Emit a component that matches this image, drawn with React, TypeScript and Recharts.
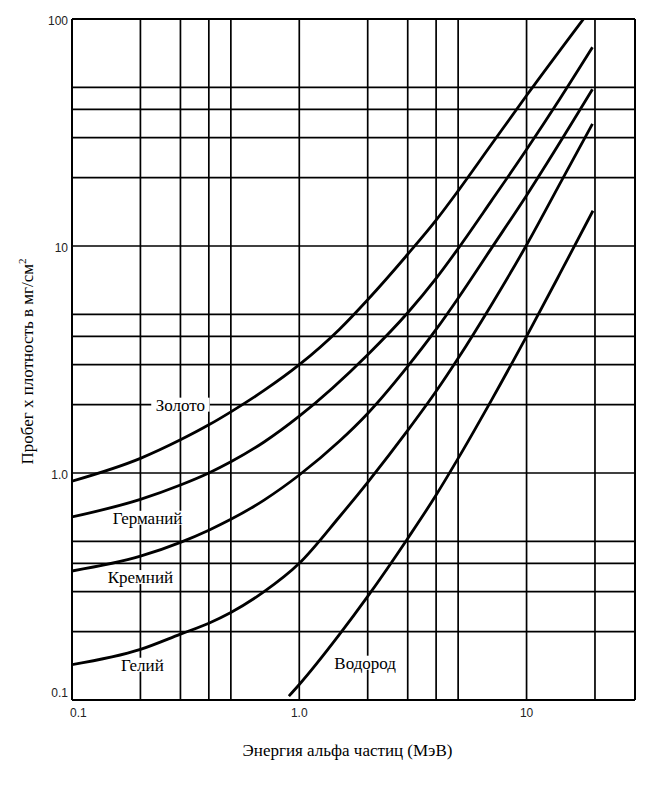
import React from 'react';
import { LineChart, Line, XAxis, YAxis, CartesianGrid, ReferenceLine, ReferenceDot, Label } from 'recharts';

// энергия (МэВ) и пробег x плотность (мг/см²)
const energyGold = [0.1, 0.2, 0.3, 0.4, 0.5, 0.7, 1, 1.5, 2, 3, 4, 5, 7, 10, 17.8];
const rangeGold = [0.92, 1.16, 1.4, 1.63, 1.86, 2.31, 3.0, 4.29, 5.8, 9.2, 13.0, 17.5, 28, 46, 100];

const energyGermanium = [0.1, 0.2, 0.3, 0.4, 0.5, 0.7, 1, 2, 3, 4, 5, 7, 10, 14, 19.5];
const rangeGermanium = [0.64, 0.765, 0.885, 1.0, 1.12, 1.37, 1.78, 3.32, 5.08, 7.2, 9.74, 15.8, 26.6, 44.4, 75];

const energySilicon = [0.1, 0.2, 0.3, 0.4, 0.5, 0.7, 1, 1.5, 2, 3, 4, 5, 7, 10, 19.5];
const rangeSilicon = [0.37, 0.43, 0.495, 0.56, 0.625, 0.76, 0.98, 1.38, 1.83, 2.95, 4.29, 5.89, 9.76, 16.7, 49];

const energyHelium = [0.1, 0.2, 0.3, 0.4, 0.5, 0.7, 1, 1.5, 2, 3, 4, 5, 7, 10, 14.3, 19.5];
const rangeHelium = [0.143, 0.167, 0.195, 0.218, 0.243, 0.3, 0.4, 0.64, 0.91, 1.54, 2.29, 3.2, 5.5, 10.1, 19.5, 34.5];

const energyHydrogen = [0.9, 1, 1.5, 2, 3, 4, 5, 7, 10, 14, 19.6];
const rangeHydrogen = [0.104, 0.117, 0.194, 0.286, 0.515, 0.8, 1.16, 2.09, 4.0, 7.53, 14.3];

const xTicks = [0.1, 0.2, 0.3, 0.4, 0.5, 1, 2, 3, 4, 5, 10, 20];
const yTicks = [0.1, 0.2, 0.3, 0.4, 0.5, 1, 2, 3, 4, 5, 10, 20, 30, 40, 50, 100];
const xTickLabels: Record<number, string> = { 0.1: '0.1', 1: '1.0', 10: '10' };
const yTickLabels: Record<number, string> = { 0.1: '0.1', 1: '1.0', 10: '10', 100: '100' };

const toPoints = (energy: number[], range: number[]) => energy.map((e, i) => ({ e, r: range[i] }));

const series = [
  { name: 'Золото', data: toPoints(energyGold, rangeGold) },
  { name: 'Германий', data: toPoints(energyGermanium, rangeGermanium) },
  { name: 'Кремний', data: toPoints(energySilicon, rangeSilicon) },
  { name: 'Гелий', data: toPoints(energyHelium, rangeHelium) },
  { name: 'Водород', data: toPoints(energyHydrogen, rangeHydrogen) },
];

const serif = '"Liberation Serif", "Times New Roman", serif';
const sans = '"Liberation Sans", Arial, sans-serif';

const XTick = (props: any) => {
  const { x, y, payload } = props;
  const text = xTickLabels[payload.value];
  if (!text) return null;
  return (
    <text x={payload.value === 0.1 ? x - 2 : x} y={y} dy="0.71em" textAnchor={payload.value === 0.1 ? 'start' : 'middle'}
      style={{ fontFamily: sans, fontSize: 12 }} fill="#222">{text}</text>
  );
};

const YTick = (props: any) => {
  const { x, y, payload } = props;
  const text = yTickLabels[payload.value];
  if (!text) return null;
  return (
    <text x={x + 4} y={payload.value === 0.1 ? y - 7 : y + 2} dy="0.355em" textAnchor="end"
      style={{ fontFamily: sans, fontSize: 12 }} fill="#222">{text}</text>
  );
};

const curveLabel = (text: string) => (props: any) => {
  const { cx, cy } = props;
  const w = text.length * 9.4 + 2;
  return (
    <g>
      <rect x={cx - w / 2} y={cy - 7} width={w} height={14} fill="#fff" />
      <text x={cx} y={cy + 6} textAnchor="middle" style={{ fontFamily: serif, fontSize: 17 }} fill="#000">{text}</text>
    </g>
  );
};

export default function App() {
  return (
    <LineChart width={654} height={790} margin={{ top: 11, right: 27, left: 0, bottom: 38 }}>
      <CartesianGrid stroke="#000" strokeWidth={1.7} />
      <XAxis type="number" dataKey="e" scale="log" domain={[0.1, 30]} allowDataOverflow ticks={xTicks} interval={0}
        tick={<XTick />} tickLine={false} axisLine={{ stroke: '#000', strokeWidth: 2 }} height={60}>
        <Label content={({ viewBox }: any) => (
          <text x={viewBox.x + viewBox.width / 2 - 6} y={viewBox.y + 56} textAnchor="middle" style={{ fontFamily: serif, fontSize: 17 }} fill="#000">
            Энергия альфа частиц (МэВ)
          </text>
        )} />
      </XAxis>
      <YAxis type="number" scale="log" domain={[0.1, 100]} allowDataOverflow ticks={yTicks} interval={0}
        tick={<YTick />} tickLine={false} axisLine={{ stroke: '#000', strokeWidth: 2 }} width={64}>
        <Label content={({ viewBox }: any) => {
          const x = viewBox.x + 25;
          const y = viewBox.y + viewBox.height / 2 + 2;
          return (
            <text x={x} y={y} transform={`rotate(-90 ${x} ${y})`} textAnchor="middle" style={{ fontFamily: serif, fontSize: 17 }} fill="#000">
              Пробег x плотность в мг/см<tspan dy={-7} fontSize={11}>2</tspan>
            </text>
          );
        }} />
      </YAxis>
      <ReferenceLine y={100} stroke="#000" strokeWidth={2} />
      <ReferenceLine x={30} stroke="#000" strokeWidth={2} />
      {series.map((s) => (
        <Line key={s.name} data={s.data} dataKey="r" name={s.name} type="monotoneX" stroke="#000" strokeWidth={2.8}
          dot={false} activeDot={false} isAnimationActive={false} />
      ))}
      <ReferenceDot x={0.3} y={2.0} r={0} shape={curveLabel('Золото')} />
      <ReferenceDot x={0.215} y={0.635} r={0} shape={curveLabel('Германий')} />
      <ReferenceDot x={0.2} y={0.348} r={0} shape={curveLabel('Кремний')} />
      <ReferenceDot x={0.204} y={0.143} r={0} shape={curveLabel('Гелий')} />
      <ReferenceDot x={1.95} y={0.146} r={0} shape={curveLabel('Водород')} />
    </LineChart>
  );
}
